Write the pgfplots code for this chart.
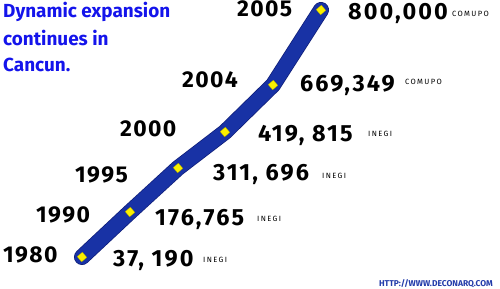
\documentclass[border=0pt]{standalone}
\usepackage{fontspec}
\setmainfont{Fira Sans}
\usepackage{pgfplots}
\pgfplotsset{compat=1.18}
\definecolor{lineblue}{RGB}{24,50,165}
\definecolor{edgeblue}{RGB}{15,30,120}
\definecolor{titleblue}{RGB}{20,20,235}
\definecolor{urlblue}{RGB}{35,60,170}
\definecolor{mk}{RGB}{250,240,0}
\newfontfamily\yearfont[LetterSpace=6]{Fira Sans}
\newfontfamily\valfont[LetterSpace=9]{Fira Sans}
\newfontfamily\srcfont[LetterSpace=18]{Fira Sans}
\newcommand{\yr}[1]{{\yearfont\bfseries\fontsize{23}{23}\selectfont #1}}
\newcommand{\val}[1]{{\valfont\bfseries\fontsize{23.5}{23}\selectfont #1}}
\newcommand{\src}[1]{{\srcfont\fontsize{7.6}{8}\selectfont #1}}
\newcommand{\ttl}[1]{{\color{titleblue}\bfseries\fontsize{19}{19}\selectfont #1}}
\begin{document}
\begin{tikzpicture}
\begin{axis}[width=500bp,height=289bp,scale only axis,
  xmin=0,xmax=500,ymin=0,ymax=289,hide axis,clip=false]
\addplot[edgeblue,line width=16bp,line cap=round,line join=round] table {
x y
82 32
130 77
178 121
225 157
273 204
321 279
};
\addplot[lineblue,line width=14.5bp,line cap=round,line join=round,
  mark=square*,mark size=3.4bp,
  mark options={solid,fill=mk,draw=mk!70!black,line width=0.3bp,rotate=40}] table {
x y
82 32
130 77
178 121
225 157
273 204
321 279
};
% years
\node[anchor=base west,inner sep=0] at (axis cs:3,27) {\yr{1980}};
\node[anchor=base west,inner sep=0] at (axis cs:36,66) {\yr{1990}};
\node[anchor=base west,inner sep=0] at (axis cs:75,106) {\yr{1995}};
\node[anchor=base west,inner sep=0] at (axis cs:120,152) {\yr{2000}};
\node[anchor=base west,inner sep=0] at (axis cs:182,201) {\yr{2004}};
\node[anchor=base west,inner sep=0] at (axis cs:237,272) {\yr{2005}};
% values
\node[anchor=base west,inner sep=0] at (axis cs:113,23) {\val{37, 190}};
\node[anchor=base west,inner sep=0] at (axis cs:155,63) {\val{176,765}};
\node[anchor=base west,inner sep=0] at (axis cs:213,108) {\val{311, 696}};
\node[anchor=base west,inner sep=0] at (axis cs:258,147) {\val{419, 815}};
\node[anchor=base west,inner sep=0] at (axis cs:300,197) {\val{669,349}};
\node[anchor=base west,inner sep=0] at (axis cs:348,269) {\val{800,000}};
% sources
\node[anchor=base west,inner sep=0] at (axis cs:203,27) {\src{INEGI}};
\node[anchor=base west,inner sep=0] at (axis cs:257,67) {\src{INEGI}};
\node[anchor=base west,inner sep=0] at (axis cs:322,110) {\src{INEGI}};
\node[anchor=base west,inner sep=0] at (axis cs:368,152) {\src{INEGI}};
\node[anchor=base west,inner sep=0] at (axis cs:405,204) {\src{COMUPO}};
\node[anchor=base west,inner sep=0] at (axis cs:452,272) {\src{COMUPO}};
% title
\node[anchor=base west,inner sep=0] at (axis cs:3,271) {\ttl{Dynamic expansion}};
\node[anchor=base west,inner sep=0] at (axis cs:3,243) {\ttl{continues in}};
\node[anchor=base west,inner sep=0] at (axis cs:3,217) {\ttl{Cancun.}};
% url
\node[anchor=base east,inner sep=0] at (axis cs:493,3) {{\color{urlblue}\bfseries\fontsize{8.5}{9}\selectfont HTTP://WWW.DECONARQ.COM}};
\end{axis}
\pgfresetboundingbox
\path (0,0) rectangle (500bp,289bp);
\end{tikzpicture}
\end{document}
